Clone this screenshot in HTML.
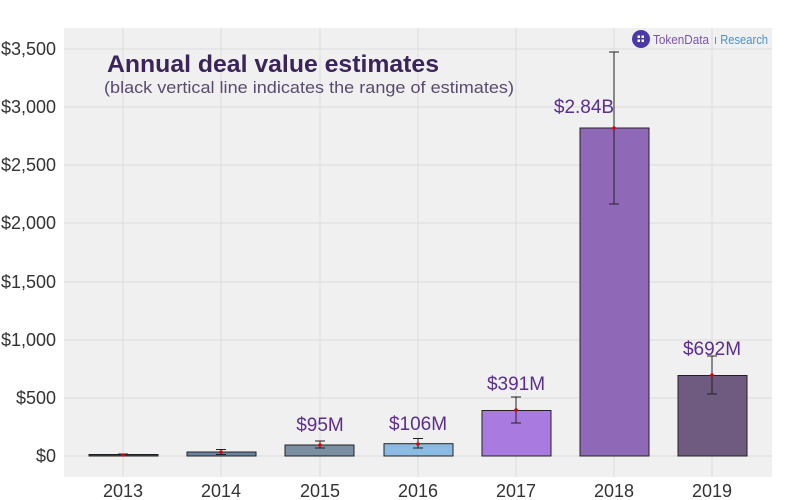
<!DOCTYPE html><html><head><meta charset="utf-8"><style>body{margin:0;background:#fff}svg{display:block;font-family:"Liberation Sans",sans-serif}</style></head><body>
<svg width="800" height="500" viewBox="0 0 800 500">
<rect x="64" y="28" width="708" height="449" fill="#f0f0f0"/>
<g stroke="#dcdcdc" stroke-width="1">
<line x1="64" x2="772" y1="456" y2="456"/><line x1="64" x2="772" y1="398" y2="398"/><line x1="64" x2="772" y1="340" y2="340"/><line x1="64" x2="772" y1="282" y2="282"/><line x1="64" x2="772" y1="223" y2="223"/><line x1="64" x2="772" y1="165" y2="165"/><line x1="64" x2="772" y1="107" y2="107"/><line x1="64" x2="772" y1="49" y2="49"/>
<line y1="28" y2="477" x1="123" x2="123"/><line y1="28" y2="477" x1="221" x2="221"/><line y1="28" y2="477" x1="320" x2="320"/><line y1="28" y2="477" x1="418" x2="418"/><line y1="28" y2="477" x1="516" x2="516"/><line y1="28" y2="477" x1="614" x2="614"/><line y1="28" y2="477" x1="712" x2="712"/>
</g>
<g font-size="18" fill="#333" text-anchor="end">
<text x="56" y="462">$0</text><text x="56" y="404">$500</text><text x="56" y="346">$1,000</text><text x="56" y="288">$1,500</text><text x="56" y="229">$2,000</text><text x="56" y="171">$2,500</text><text x="56" y="113">$3,000</text><text x="56" y="55">$3,500</text>
</g>
<g font-size="18" fill="#333" text-anchor="middle">
<text x="123" y="497">2013</text><text x="221" y="497">2014</text><text x="320" y="497">2015</text><text x="418" y="497">2016</text><text x="516" y="497">2017</text><text x="614" y="497">2018</text><text x="712" y="497">2019</text>
</g>
<g stroke="#222" stroke-width="1">
<rect x="89" y="454.5" width="69" height="1.5" fill="#3d4a5c"/>
<rect x="187" y="452" width="69" height="4" fill="#6a84a8"/>
<rect x="285" y="445" width="69" height="11" fill="#7a8fa3"/>
<rect x="384" y="443.7" width="69" height="12.3" fill="#8bbbe3"/>
<rect x="482" y="410.5" width="69" height="45.5" fill="#a97be0"/>
<rect x="580" y="128" width="69" height="328" fill="#9068b8"/>
<rect x="678" y="375.5" width="69" height="80.5" fill="#6f5b80"/>
</g>
<g stroke="#222" stroke-width="1" fill="none">
<path d="M118 454h10M123 454v2M118 456h10"/>
<path d="M216 449.5h10M221 449.5v5M216 454.5h10"/>
<path d="M315 441h10M320 441v7M315 448h10"/>
<path d="M413 438.5h10M418 438.5v9.5M413 448h10"/>
<path d="M511 397h10M516 397v26M511 423h10"/>
<path d="M609 52h10M614 52v152M609 204h10"/>
<path d="M707 356h10M712 356v38M707 394h10"/>
</g>
<g fill="#d00">
<circle cx="123" cy="455" r="1.8"/><circle cx="221" cy="452" r="1.8"/><circle cx="320" cy="445" r="1.8"/><circle cx="418" cy="444" r="1.8"/><circle cx="516" cy="410" r="1.8"/><circle cx="614" cy="128" r="1.8"/><circle cx="712" cy="375" r="1.8"/>
</g>
<g font-size="19" fill="#5b2d91" text-anchor="middle">
<text x="320" y="431">$95M</text><text x="418" y="430">$106M</text><text x="516" y="390">$391M</text><text x="584" y="113">$2.84B</text><text x="712" y="355">$692M</text>
</g>
<text x="107" y="72" font-size="24" font-weight="bold" fill="#3a2458" textLength="332" lengthAdjust="spacingAndGlyphs">Annual deal value estimates</text>
<text x="104" y="93" font-size="17" fill="#5a4a70" textLength="410" lengthAdjust="spacingAndGlyphs">(black vertical line indicates the range of estimates)</text>
<circle cx="641" cy="39" r="9" fill="#4a3aa8"/>
<g fill="#fff"><rect x="637.5" y="35.5" width="2.5" height="2.5"/><rect x="641.5" y="35.5" width="2.5" height="2.5"/><rect x="637.5" y="39.5" width="2.5" height="2.5"/><rect x="641.5" y="39.5" width="2.5" height="2.5"/></g>
<text x="653" y="44" font-size="13" fill="#7a55a8" textLength="56" lengthAdjust="spacingAndGlyphs">TokenData</text>
<text x="714" y="44" font-size="13" fill="#4a90c8" textLength="54" lengthAdjust="spacingAndGlyphs">ı Research</text>
</svg>
</body></html>
